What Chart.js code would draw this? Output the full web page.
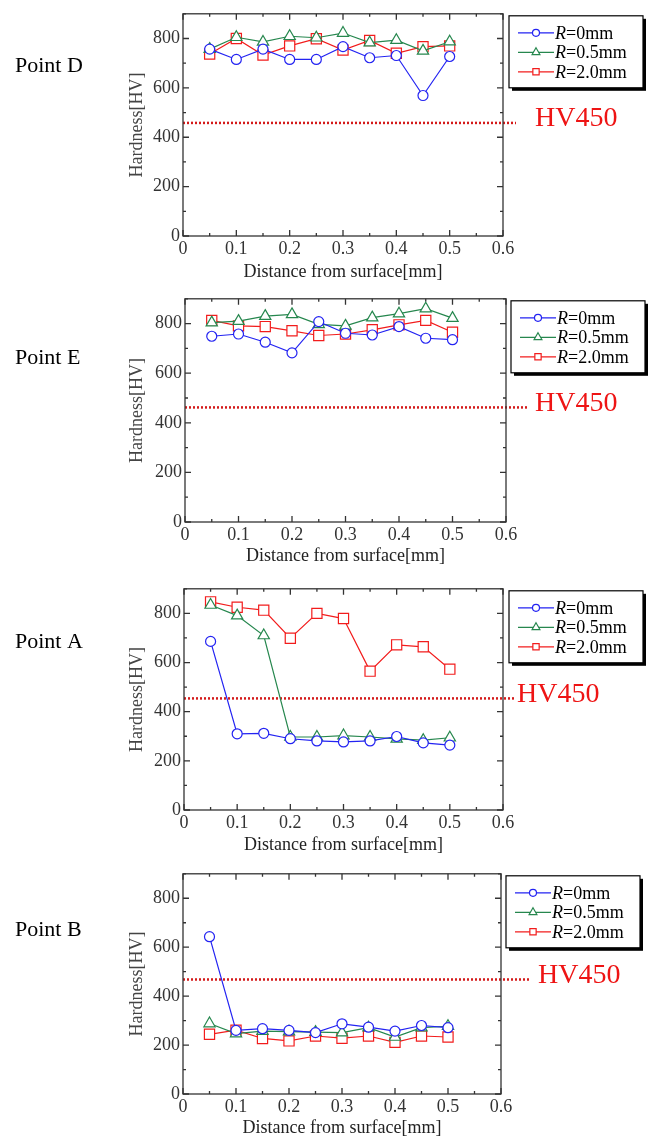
<!DOCTYPE html>
<html>
<head>
<meta charset="utf-8">
<script src="https://cdn.jsdelivr.net/npm/chart.js@4.4.0/dist/chart.umd.min.js"></script>
<style>
  body { margin: 0; background: #fff; }
  #wrap { position: relative; width: 651px; height: 1140px; }
  canvas { position: absolute; left: 0; }
</style>
</head>
<body>
<div id="wrap">
  <canvas id="chartD" width="651" height="285" style="top:0px"></canvas>
  <canvas id="chartE" width="651" height="290" style="top:285px"></canvas>
  <canvas id="chartA" width="651" height="285" style="top:575px"></canvas>
  <canvas id="chartB" width="651" height="280" style="top:860px"></canvas>
</div>
<script>
// values
var distance = [0.05, 0.1, 0.15, 0.2, 0.25, 0.3, 0.35, 0.4, 0.45, 0.5];
var radiusNames = ['0mm', '0.5mm', '2.0mm'];
var pointNames = ['Point D', 'Point E', 'Point A', 'Point B'];
var hvLevel = [458, 462, 454, 468];   // dotted HV450 line as drawn in each panel
var xTicks = [0, 0.1, 0.2, 0.3, 0.4, 0.5, 0.6];

var hardnessD_R0  = [757, 715, 757, 715, 715, 767, 722, 731, 569, 727];
var hardnessD_R05 = [757, 805, 786, 809, 803, 822, 783, 793, 750, 787];
var hardnessD_R20 = [737, 800, 733, 770, 799, 753, 792, 740, 767, 770];

var hardnessE_R0  = [749, 758, 725, 682, 808, 761, 754, 788, 741, 735];
var hardnessE_R05 = [804, 810, 830, 837, 797, 791, 824, 840, 860, 822];
var hardnessE_R20 = [813, 791, 788, 771, 752, 758, 775, 795, 813, 765];

var hardnessA_R0  = [686, 310, 312, 290, 281, 277, 281, 299, 273, 264];
var hardnessA_R05 = [834, 791, 710, 297, 297, 303, 297, 289, 284, 294];
var hardnessA_R20 = [847, 825, 813, 699, 800, 779, 565, 672, 664, 573];

var hardnessB_R0  = [643, 260, 267, 260, 251, 287, 273, 257, 280, 271];
var hardnessB_R05 = [288, 247, 257, 255, 253, 251, 271, 233, 271, 277];
var hardnessB_R20 = [244, 261, 227, 217, 237, 228, 237, 211, 237, 233];

var FONT = '"Liberation Serif", "Times New Roman", serif';
var colors = ['#2323f2', '#26874e', '#f21c1c'];
var markers = ['circle', 'triangle', 'rect'];
var markerRadius = [5, 6.5, 7.2];

function xy(values) {
  return values.map(function (v, i) { return { x: distance[i], y: v }; });
}

function drawMarker(ctx, style, x, y, r) {
  ctx.beginPath();
  if (style === 'circle') {
    ctx.arc(x, y, r, 0, Math.PI * 2);
  } else if (style === 'triangle') {
    ctx.moveTo(x, y - r);
    ctx.lineTo(x + r * 0.866, y + r * 0.5);
    ctx.lineTo(x - r * 0.866, y + r * 0.5);
    ctx.closePath();
  } else {
    ctx.rect(x - r * 0.7, y - r * 0.7, r * 1.4, r * 1.4);
  }
  ctx.fillStyle = '#fff';
  ctx.fill();
  ctx.stroke();
}

// frame, inward ticks, HV450 line, legend and side labels
var panelDecor = {
  id: 'panelDecor',
  beforeDatasetsDraw: function (chart, args, opt) {
    var ctx = chart.ctx, a = chart.chartArea;
    var xs = chart.scales.x, ys = chart.scales.y;
    ctx.save();
    // dotted threshold line
    var hy = ys.getPixelForValue(opt.level);
    ctx.strokeStyle = '#d41a1a';
    ctx.lineWidth = 2.5;
    ctx.setLineDash([2, 2]);
    ctx.beginPath();
    ctx.moveTo(a.left, hy);
    ctx.lineTo(opt.lineEnd, hy);
    ctx.stroke();
    ctx.setLineDash([]);

    ctx.strokeStyle = '#333';
    ctx.lineWidth = 1.3;
    ctx.strokeRect(a.left, a.top, a.right - a.left, a.bottom - a.top);
    ctx.beginPath();
    for (var v = 0; v <= 900; v += 100) {
      var py = ys.getPixelForValue(v);
      var len = v % 200 === 0 ? 6 : 3;
      ctx.moveTo(a.left, py); ctx.lineTo(a.left + len, py);
      ctx.moveTo(a.right, py); ctx.lineTo(a.right - len, py);
    }
    for (var k = 0; k <= 12; k++) {
      var px = xs.getPixelForValue(k * 0.05);
      var l2 = k % 2 === 0 ? 6 : 3;
      ctx.moveTo(px, a.bottom); ctx.lineTo(px, a.bottom - l2);
      ctx.moveTo(px, a.top); ctx.lineTo(px, a.top + l2);
    }
    ctx.stroke();
    ctx.restore();
  },
  afterDraw: function (chart, args, opt) {
    var ctx = chart.ctx, a = chart.chartArea;
    var ys = chart.scales.y;
    ctx.save();

    // panel name
    ctx.fillStyle = '#000';
    ctx.font = '22px ' + FONT;
    ctx.textBaseline = 'middle';
    ctx.textAlign = 'left';
    ctx.fillText(opt.name, 15, opt.nameY - opt.canvasTop);

    // HV450 label
    ctx.fillStyle = '#ee1414';
    ctx.font = '28px ' + FONT;
    ctx.fillText('HV450', opt.labelX, ys.getPixelForValue(opt.level) - 4);

    // legend box
    var bx = a.right + opt.legendDx, by = a.top + 2, bw = 134, bh = 72;
    ctx.fillStyle = '#000';
    ctx.fillRect(bx + 3, by + 3, bw, bh);
    ctx.fillStyle = '#fff';
    ctx.fillRect(bx, by, bw, bh);
    ctx.strokeStyle = '#000';
    ctx.lineWidth = 1.2;
    ctx.strokeRect(bx, by, bw, bh);

    chart.data.datasets.forEach(function (ds, i) {
      var ry = by + 17 + i * 19.5;
      ctx.strokeStyle = ds.borderColor;
      ctx.lineWidth = 1.2;
      ctx.beginPath();
      ctx.moveTo(bx + 9, ry);
      ctx.lineTo(bx + 45, ry);
      ctx.stroke();
      drawMarker(ctx, ds.pointStyle, bx + 27, ry, ds.pointStyle === 'circle' ? 3.5 : 4.5);
      ctx.fillStyle = '#000';
      ctx.font = 'italic 18px ' + FONT;
      ctx.fillText('R', bx + 46, ry + 1);
      var w = ctx.measureText('R').width;
      ctx.font = '18px ' + FONT;
      ctx.fillText('=' + ds.label, bx + 46 + w, ry + 1);
    });
    ctx.restore();
  }
};

function HardnessPanel(id, layout) {
  this.ctx = document.getElementById(id);
  this.layout = layout;
  this.chart = null;
}

HardnessPanel.prototype.draw = function (series) {
  var L = this.layout;
  var datasets = series.map(function (values, i) {
    return {
      label: radiusNames[i],
      data: xy(values),
      borderColor: colors[i],
      backgroundColor: '#fff',
      borderWidth: 1.2,
      pointStyle: markers[i],
      pointRadius: markerRadius[i],
      pointBorderColor: colors[i],
      pointBackgroundColor: '#fff',
      pointBorderWidth: 1.2,
      lineTension: 0,
      fill: false,
      clip: false
    };
  });

  this.chart = new Chart(this.ctx, {
    type: 'line',
    data: { datasets: datasets },
    plugins: [panelDecor],
    options: {
      responsive: false,
      animation: false,
      events: [],
      layout: {
        padding: {
          left: 120,
          right: 651 - L.right,
          top: L.top - L.canvasTop,
          bottom: L.canvasH - (L.bottom - L.canvasTop) - L.xh
        }
      },
      plugins: {
        legend: { display: false },
        tooltip: { enabled: false },
        panelDecor: L
      },
      scales: {
        x: {
          type: 'linear',
          min: 0,
          max: 0.6,
          grid: { display: false, drawTicks: false },
          border: { display: false },
          afterBuildTicks: function (s) {
            s.ticks = xTicks.map(function (v) { return { value: v }; });
          },
          ticks: {
            padding: 2,
            color: '#333',
            autoSkip: false,
            maxRotation: 0,
            font: { family: FONT, size: 18 },
            callback: function (v) { return v === 0 ? '0' : v.toFixed(1); }
          },
          title: {
            display: true,
            text: 'Distance from surface[mm]',
            color: '#222',
            padding: 0,
            font: { family: FONT, size: 18 }
          },
          afterFit: function (s) { s.height = L.xh; }
        },
        y: {
          min: 0,
          max: 900,
          grid: { display: false, drawTicks: false },
          border: { display: false },
          ticks: {
            stepSize: 200,
            includeBounds: false,
            padding: 3,
            color: '#333',
            font: { family: FONT, size: 18 }
          },
          title: {
            display: true,
            text: 'Hardness[HV]',
            color: '#444',
            padding: { top: 6, bottom: 0 },
            font: { family: FONT, size: 18 }
          },
          afterFit: function (s) { s.width = L.left - 120; }
        }
      }
    }
  });
};

var panelD = new HardnessPanel('chartD', {
  name: pointNames[0], level: hvLevel[0], canvasTop: 0, canvasH: 285,
  left: 183, right: 503, top: 6, bottom: 236, xh: 47,
  nameY: 66, labelX: 535, lineEnd: 516, legendDx: 6
});
var panelE = new HardnessPanel('chartE', {
  name: pointNames[1], level: hvLevel[1], canvasTop: 285, canvasH: 290,
  left: 185, right: 506, top: 293, bottom: 522, xh: 45,
  nameY: 358, labelX: 535, lineEnd: 527, legendDx: 5
});
var panelA = new HardnessPanel('chartA', {
  name: pointNames[2], level: hvLevel[2], canvasTop: 575, canvasH: 285,
  left: 184, right: 503, top: 583, bottom: 810, xh: 46,
  nameY: 642, labelX: 517, lineEnd: 515, legendDx: 6
});
var panelB = new HardnessPanel('chartB', {
  name: pointNames[3], level: hvLevel[3], canvasTop: 860, canvasH: 280,
  left: 183, right: 501, top: 869, bottom: 1094, xh: 45,
  nameY: 930, labelX: 538, lineEnd: 530, legendDx: 5
});

panelD.draw([hardnessD_R0, hardnessD_R05, hardnessD_R20]);
panelE.draw([hardnessE_R0, hardnessE_R05, hardnessE_R20]);
panelA.draw([hardnessA_R0, hardnessA_R05, hardnessA_R20]);
panelB.draw([hardnessB_R0, hardnessB_R05, hardnessB_R20]);
</script>
</body>
</html>
